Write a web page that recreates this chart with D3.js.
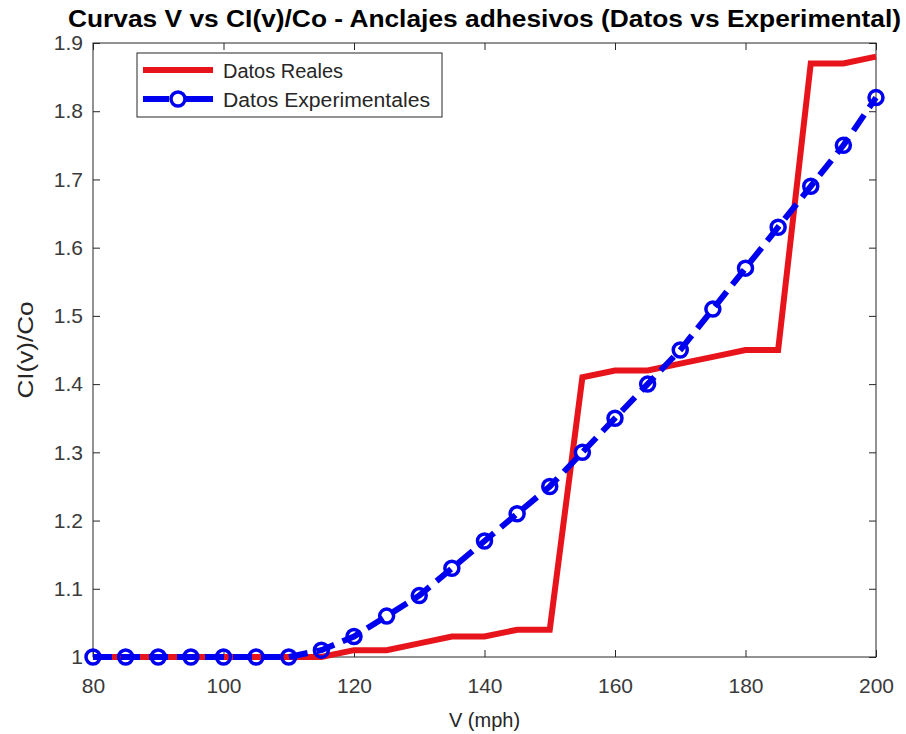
<!DOCTYPE html>
<html>
<head>
<meta charset="utf-8">
<script src="https://cdn.jsdelivr.net/npm/d3@7"></script>
<style>
  body { margin: 0; background: #fff; }
  svg text { font-family: "Liberation Sans", Arial, sans-serif; }
</style>
</head>
<body>
<svg width="906" height="734"></svg>
<script>
// velocidades (mph)
var velocidades = [80, 85, 90, 95, 100, 105, 110, 115, 120, 125, 130, 135, 140, 145, 150, 155, 160, 165, 170, 175, 180, 185, 190, 195, 200];
var datosReales = [1, 1, 1, 1, 1, 1, 1, 1, 1.01, 1.01, 1.02, 1.03, 1.03, 1.04, 1.04, 1.41, 1.42, 1.42, 1.43, 1.44, 1.45, 1.45, 1.87, 1.87, 1.88];
var datosExp = [1, 1, 1, 1, 1, 1, 1, 1.01, 1.03, 1.06, 1.09, 1.13, 1.17, 1.21, 1.25, 1.30, 1.35, 1.40, 1.45, 1.51, 1.57, 1.63, 1.69, 1.75, 1.82];
var xTicks = [80, 100, 120, 140, 160, 180, 200];
var yTicks = [1, 1.1, 1.2, 1.3, 1.4, 1.5, 1.6, 1.7, 1.8, 1.9];

var svg = d3.select('svg');
var mLeft = 93, mRight = 876, mTop = 43, mBottom = 657;

var x = d3.scaleLinear().domain([80, 200]).range([mLeft, mRight]);
var y = d3.scaleLinear().domain([1, 1.9]).range([mBottom, mTop]);

var tickColor = '#262626';
var rojo = '#e8141c', azul = '#0000f0';

// caja
svg.append('rect')
	.attr('x', mLeft).attr('y', mTop)
	.attr('width', mRight - mLeft).attr('height', mBottom - mTop)
	.attr('fill', 'none').attr('stroke', tickColor).attr('stroke-width', 1);

// ticks
var tickLen = 7;
var xAxisB = svg.append('g').attr('transform', 'translate(0,' + mBottom + ')')
	.call(d3.axisBottom(x).tickValues(xTicks).tickSizeInner(-tickLen).tickSizeOuter(0).tickPadding(21));
var xAxisT = svg.append('g').attr('transform', 'translate(0,' + mTop + ')')
	.call(d3.axisTop(x).tickValues(xTicks).tickSizeInner(-tickLen).tickSizeOuter(0).tickFormat(''));
var yAxisL = svg.append('g').attr('transform', 'translate(' + mLeft + ',0)')
	.call(d3.axisLeft(y).tickValues(yTicks).tickSizeInner(-tickLen).tickSizeOuter(0).tickPadding(10).tickFormat(d3.format('')));
var yAxisR = svg.append('g').attr('transform', 'translate(' + mRight + ',0)')
	.call(d3.axisRight(y).tickValues(yTicks).tickSizeInner(-tickLen).tickSizeOuter(0).tickFormat(''));

[xAxisB, xAxisT, yAxisL, yAxisR].forEach(function(a){
	a.select('.domain').remove();
	a.selectAll('line').attr('stroke', tickColor);
	a.selectAll('text').attr('fill', '#3a3a3a').style('font-size', '21px')
		.style('font-family', '"Liberation Sans", Arial, sans-serif');
});
xAxisB.selectAll('text').attr('dy', '0.71em');

var plot = svg.append('g');

var linea = d3.line().x(function(d, i){ return x(velocidades[i]); }).y(function(d){ return y(d); });

plot.append('path')
	.datum(datosReales)
	.attr('d', linea)
	.attr('fill', 'none')
	.attr('stroke', rojo)
	.attr('stroke-width', 6)
	.attr('stroke-linejoin', 'miter');

plot.append('path')
	.datum(datosExp)
	.attr('d', linea)
	.attr('fill', 'none')
	.attr('stroke', azul)
	.attr('stroke-width', 6)
	.attr('stroke-dasharray', '19,9');

plot.selectAll('circle.exp')
	.data(datosExp)
	.enter().append('circle')
	.attr('class', 'exp')
	.attr('cx', function(d, i){ return x(velocidades[i]); })
	.attr('cy', function(d){ return y(d); })
	.attr('r', 7)
	.attr('fill', 'none')
	.attr('stroke', azul)
	.attr('stroke-width', 3.5);

// leyenda
var leg = svg.append('g');
leg.append('rect')
	.attr('x', 137).attr('y', 53).attr('width', 305).attr('height', 64)
	.attr('fill', '#fff').attr('stroke', tickColor).attr('stroke-width', 1);
leg.append('line')
	.attr('x1', 143).attr('x2', 213).attr('y1', 70).attr('y2', 70)
	.attr('stroke', rojo).attr('stroke-width', 6);
leg.append('line')
	.attr('x1', 143).attr('x2', 213).attr('y1', 99).attr('y2', 99)
	.attr('stroke', azul).attr('stroke-width', 6).attr('stroke-dasharray', '26,10,40');
leg.append('circle')
	.attr('cx', 178).attr('cy', 99).attr('r', 7)
	.attr('fill', '#fff').attr('stroke', azul).attr('stroke-width', 3.5);
leg.append('text').attr('x', 223).attr('y', 78).text('Datos Reales')
	.attr('fill', tickColor).style('font-size', '20px');
leg.append('text').attr('x', 223).attr('y', 107).text('Datos Experimentales')
	.attr('fill', tickColor).style('font-size', '20px')
	.attr('textLength', 207).attr('lengthAdjust', 'spacingAndGlyphs');

// titulos
svg.append('text')
	.attr('x', (mLeft + mRight) / 2).attr('y', 27)
	.attr('text-anchor', 'middle')
	.style('font-size', '23px').style('font-weight', 'bold')
	.attr('fill', '#000')
	.attr('textLength', 833).attr('lengthAdjust', 'spacingAndGlyphs')
	.text('Curvas V vs CI(v)/Co - Anclajes adhesivos (Datos vs Experimental)');

svg.append('text')
	.attr('x', (mLeft + mRight) / 2).attr('y', 727)
	.attr('text-anchor', 'middle')
	.style('font-size', '20px')
	.attr('fill', tickColor)
	.text('V (mph)');

svg.append('text')
	.attr('transform', 'translate(33,' + (mTop + mBottom) / 2 + ') rotate(-90)')
	.attr('text-anchor', 'middle')
	.style('font-size', '22px')
	.attr('fill', tickColor)
	.attr('textLength', 97).attr('lengthAdjust', 'spacingAndGlyphs')
	.text('CI(v)/Co');
</script>
</body>
</html>
